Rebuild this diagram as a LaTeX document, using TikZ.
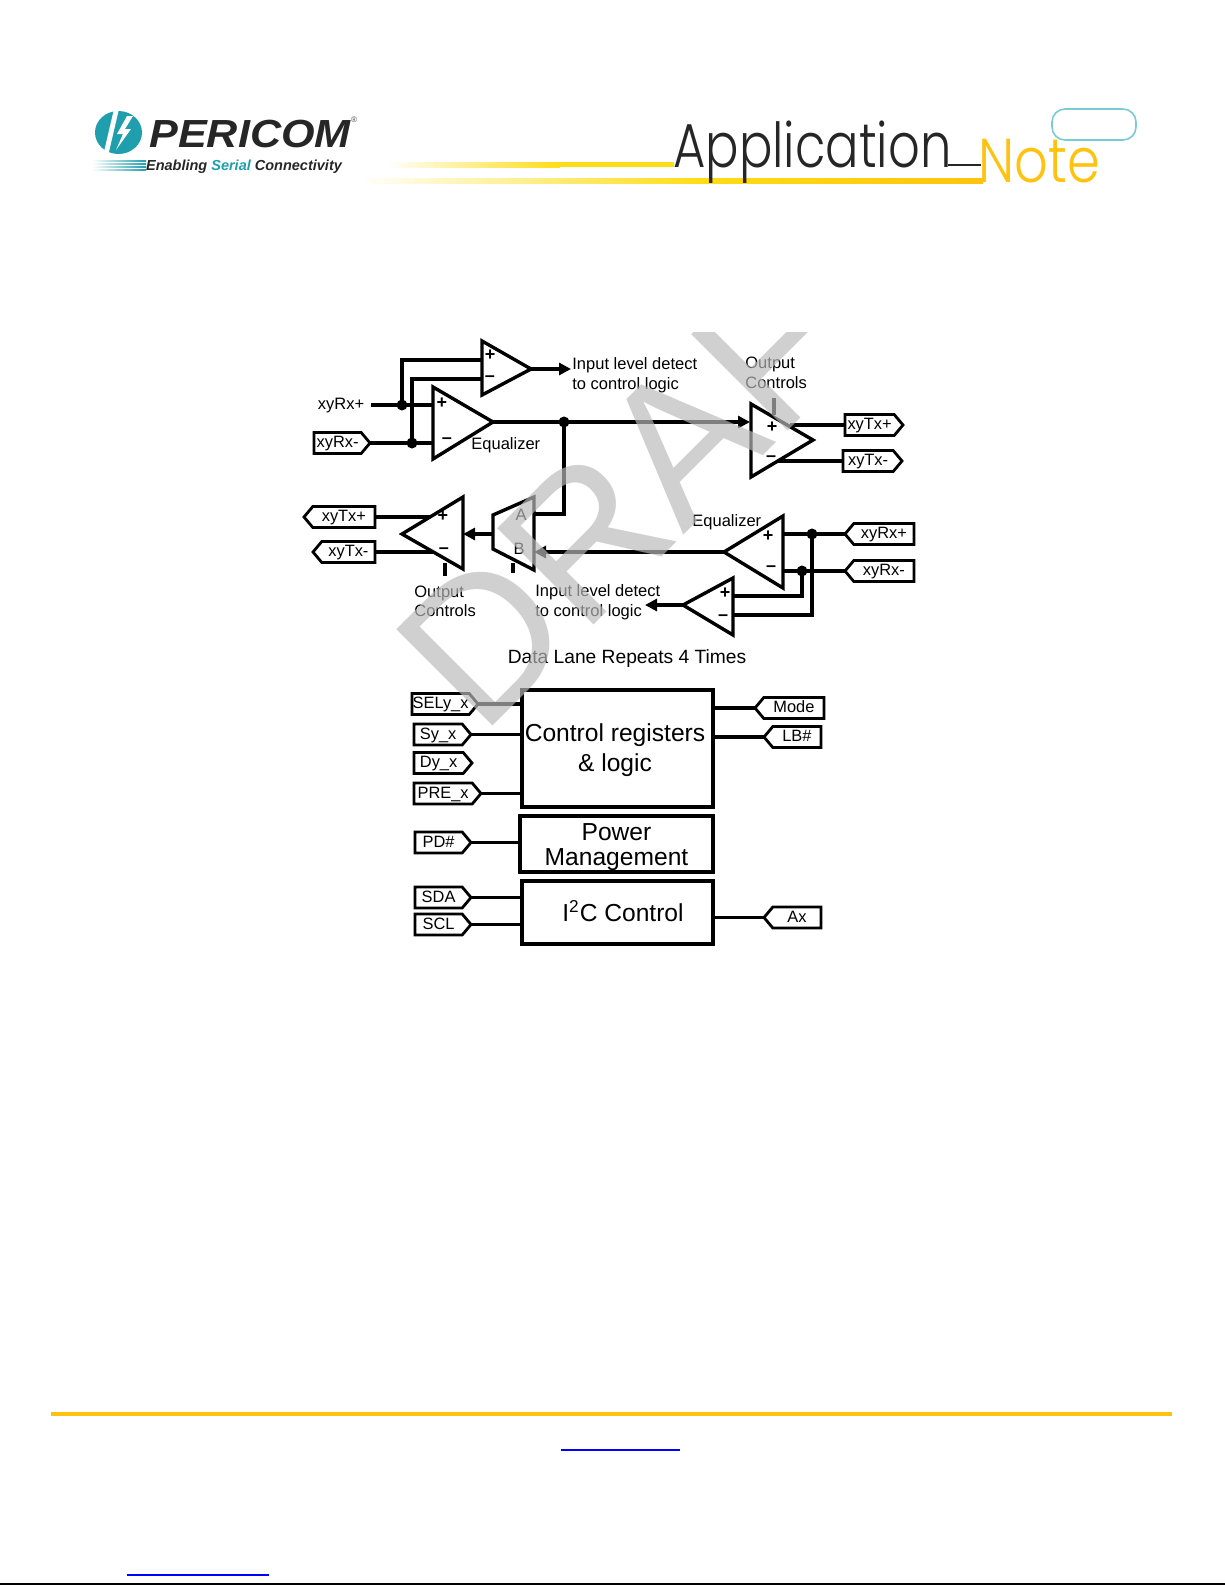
\documentclass[tikz,border=0pt]{standalone}
\usepackage{fontspec}
\setmainfont{Liberation Sans}
\newfontfamily\appfont{Poppins Light}
\usetikzlibrary{arrows.meta,shapes.symbols}
\definecolor{hdrgold}{HTML}{FFC20E}
\definecolor{hdryellow}{HTML}{FFDD15}
\definecolor{logoteal}{HTML}{1F9FAE}
\definecolor{noteteal}{HTML}{7CCAD6}
\definecolor{markgray}{gray}{0.73}
\tikzset{
  wire/.style={line width=1.55pt},
  sigarrow/.style={wire,-{Triangle[length=6pt,width=6pt]}},
  amp/.style={line width=1.7pt,fill=white,line join=miter},
  regbox/.style={draw,line width=2pt,inner sep=0pt,align=center},
  ttext/.style={inner sep=0pt,font=\fontsize{8.25}{9.8}\selectfont,align=left},
  sign/.style={inner sep=0pt,font=\bfseries\fontsize{9}{9}\selectfont},
  tagright/.style={signal,draw,signal to=east,signal from=nowhere,signal pointer angle=100,line width=1.4pt,
    inner sep=0pt,outer sep=0pt,minimum height=10.5pt,text height=6pt,text depth=1.2pt,anchor=west,font=\fontsize{8.2}{9}\selectfont},
  tagleft/.style={signal,draw,signal to=west,signal from=nowhere,signal pointer angle=100,line width=1.4pt,
    inner sep=0pt,outer sep=0pt,minimum height=10.5pt,text height=6pt,text depth=1.2pt,anchor=east,font=\fontsize{8.2}{9}\selectfont},
}
\begin{document}
\begin{tikzpicture}[x=0.5pt,y=-0.5pt]
    \useasboundingbox (0,0) rectangle (1225,1585);
    % page header
    \fill [logoteal] (118.5,132.5) ellipse (23.5 and 21.5);
    \fill [white] (114,109) -- (119,109) -- (108,156) -- (103,156) -- cycle;
    \fill [white] (127,116) -- (117,134) -- (123,134) -- (116,150) -- (131,129) -- (125,129) -- (133,116) -- cycle;
    \node (logoname) at (250,134.5) [inner sep=0pt,xscale=1.1,transform shape,font=\fontsize{19.6}{20}\bfseries\itshape\selectfont,text=black!85] {PERICOM};
    \node (logomark) at (354,120) [inner sep=0pt,font=\fontsize{4}{4}\selectfont,text=black!70] {®};
    \foreach \y in {160,163,166,169}
      \shade [left color=white,right color=logoteal] (92,\y) rectangle (146,\y+1.6);
    \node (logotag) at (244,167) [inner sep=0pt,font=\fontsize{7.25}{8}\bfseries\itshape\selectfont,text=black!85] {Enabling \textcolor{logoteal}{Serial} Connectivity};
    \shade [left color=white,right color=hdryellow] (386,162) rectangle (560,167);
    \fill [hdryellow] (559.5,162) rectangle (674,167);
    \shade [left color=white,right color=hdryellow] (358,178) rectangle (700,183);
    \shade [left color=hdryellow,right color=hdrgold] (699.5,178) rectangle (983,183);
    \draw [line width=1.1pt,black!85] (948,165) -- (981,165);
    \node (appword) at (673,167) [anchor=base west,inner sep=0pt,xscale=0.8,transform shape,font=\appfont\fontsize{31}{31}\selectfont,text=black!85] {Application};
    \node (noteword) at (978,182) [anchor=base west,inner sep=0pt,xscale=0.85,transform shape,font=\appfont\fontsize{31}{31}\selectfont,text=hdrgold] {Note};
    \draw [noteteal,line width=0.8pt,rounded corners=6.5pt] (1052,109) rectangle (1136,140);
    % upper lane
    \node (rxpa) at (341,406) [ttext] {xyRx+};
    \node (rxma) at (314,443) [tagright,minimum width=28pt] {xyRx-};
    \coordinate (cmpain) at (482,360);
    \coordinate (cmpbin) at (482,379);
    \coordinate (eqap) at (433,405);
    \coordinate (eqam) at (433,443);
    \coordinate (doa) at (402,405);
    \coordinate (dob) at (412,443);
    \draw [wire] (371,405) -- (eqap);
    \draw [wire] (rxma.east) -- (eqam);
    \draw [wire] (doa) |- (cmpain);
    \draw [wire] (dob) |- (cmpbin);
    \fill (doa) circle (5.5) (dob) circle (5.5);
    \draw [amp] (482,341) -- (531,369) coordinate (cmpaout) -- (482,395) -- cycle;
    \draw [amp] (433,387) -- (493,422) coordinate (eqaout) -- (433,459) -- cycle;
    \node at (490,355) [sign] {+};
    \node at (490,379) [sign] {--};
    \node at (442,403) [sign] {+};
    \node at (447,441) [sign] {--};
    \coordinate (inlvla) at (571,369);
    \draw [sigarrow] (cmpaout) -- (inlvla);
    \node (lvltxta) at (572,375) [ttext,anchor=west] {Input level detect\\to control logic};
    \node (eqtxta) at (471,445) [ttext,anchor=west] {Equalizer};
    \coordinate (doc) at (564,422);
    \coordinate (ampain) at (750,422);
    \draw [sigarrow] (eqaout) -- (ampain);
    \fill (doc) circle (5.5);
    \node (ctrltxta) at (745,373) [ttext,anchor=west] {Output\\Controls};
    \draw [wire] (774,398) -- (774,415);
    \node (txpa) at (845,425) [tagright,minimum width=29pt] {xyTx+};
    \node (txma) at (843,461) [tagright,minimum width=29.5pt] {xyTx-};
    \draw [wire] (txpa.west) -- (790,425);
    \draw [wire] (txma.west) -- (770,461);
    \draw [amp] (751,404) -- (813,440) -- (751,477) -- cycle;
    \node at (772,427) [sign] {+};
    \node at (771,459) [sign] {--};
    % lower lane
    \node (txpb) at (375,517) [tagleft,minimum width=35.5pt] {xyTx+};
    \node (txmb) at (375,552) [tagleft,minimum width=31pt] {xyTx-};
    \coordinate (ampbp) at (445,517);
    \coordinate (ampbm) at (445,552);
    \draw [wire] (txpb.east) -- (ampbp);
    \draw [wire] (txmb.east) -- (ampbm);
    \draw [amp] (402,534) -- (463,497) coordinate (ampbtop) -- (463,569) -- cycle;
    \node at (443,516) [sign] {+};
    \node at (444,551) [sign] {--};
    \draw [wire] (445,563) -- (445,576);
    \node (ctrltxtb) at (414,601.5) [ttext,anchor=west] {Output\\Controls};
    \coordinate (muxa) at (534,514);
    \coordinate (muxb) at (534,552);
    \coordinate (muxout) at (493,534);
    \draw [amp] (493,515) -- (534,497) -- (534,570) -- (493,549) -- cycle;
    \node at (521,515) [ttext] {A};
    \node at (519,549) [ttext] {B};
    \draw [sigarrow] (muxout) -- (463,534);
    \draw [wire] (513,563) -- (513,573);
    \draw [wire] (doc) |- (muxa);
    \node (rxpb) at (914,534) [tagleft,minimum width=34.5pt] {xyRx+};
    \node (rxmb) at (914,571) [tagleft,minimum width=34.5pt] {xyRx-};
    \coordinate (eqbout) at (724,552);
    \draw [sigarrow] (eqbout) -- (muxb);
    \coordinate (dod) at (812,534);
    \coordinate (doe) at (802,571);
    \draw [wire] (783,534) -- (rxpb.west);
    \draw [wire] (783,571) -- (rxmb.west);
    \draw [wire] (doe) |- (733,596);
    \draw [wire] (dod) |- (733,615);
    \fill (dod) circle (5.5) (doe) circle (5.5);
    \draw [amp] (783,516) -- (724,552) -- (783,588) -- cycle;
    \node at (768,536) [sign] {+};
    \node at (771,569) [sign] {--};
    \node (eqtxtb) at (692,522) [ttext,anchor=west] {Equalizer};
    \draw [amp] (733,578) -- (683,605) coordinate (cmpbout) -- (733,635) -- cycle;
    \node at (725,593) [sign] {+};
    \node at (723,618) [sign] {--};
    \coordinate (inlvlb) at (645,605);
    \draw [sigarrow] (cmpbout) -- (inlvlb);
    \node (lvltxtb) at (535,602) [ttext,anchor=west] {Input level detect\\to control logic};
    \node (lanetxt) at (627,659) [inner sep=0pt,font=\fontsize{9.6}{10}\selectfont] {Data Lane Repeats 4 Times};
    % control blocks
    \node (ctrlbox) at (617.5,748.5) [regbox,minimum width=95.5pt,minimum height=58.5pt] {};
    \node (ctrltxt) at (615,750) [inner sep=0pt,align=center,font=\fontsize{12.3}{15}\selectfont] {Control registers\\\& logic};
    \node (pwrbox) at (616.5,844) [regbox,minimum width=96.5pt,minimum height=28pt] {};
    \node (pwrtxt) at (616.5,847) [inner sep=0pt,align=center,font=\fontsize{12.3}{12.5}\selectfont] {Power\\Management};
    \node (i2cbox) at (617.5,912.5) [regbox,minimum width=95.5pt,minimum height=31.5pt] {};
    \node (i2ctxt) at (623,911) [inner sep=0pt,font=\fontsize{12.3}{14}\selectfont] {I\textsuperscript{2}C Control};
    \node (tagsel) at (412,704) [tagright,minimum width=33pt] {SELy\_x};
    \node (tagsy) at (414,734.5) [tagright,minimum width=28.5pt] {Sy\_x};
    \node (tagdy) at (414,763) [tagright,minimum width=29pt] {Dy\_x};
    \node (tagpre) at (414,793.5) [tagright,minimum width=33.5pt] {PRE\_x};
    \node (tagpd) at (415,842.5) [tagright,minimum width=28pt] {PD\#};
    \node (tagsda) at (415,897.5) [tagright,minimum width=28pt] {SDA};
    \node (tagscl) at (415,924.5) [tagright,minimum width=28pt] {SCL};
    \node (tagmode) at (824,708) [tagleft,minimum width=34.5pt] {Mode};
    \node (taglb) at (821,737) [tagleft,minimum width=28.5pt] {LB\#};
    \node (tagax) at (821,917.5) [tagleft,minimum width=28.5pt] {Ax};
    \draw [wire] (tagsel.east) -- (tagsel.east -| ctrlbox.west);
    \draw [wire] (tagsy.east) -- (tagsy.east -| ctrlbox.west);
    \draw [wire] (tagpre.east) -- (tagpre.east -| ctrlbox.west);
    \draw [wire] (tagpd.east) -- (tagpd.east -| pwrbox.west);
    \draw [wire] (tagsda.east) -- (tagsda.east -| i2cbox.west);
    \draw [wire] (tagscl.east) -- (tagscl.east -| i2cbox.west);
    \draw [wire] (tagmode.west) -- (tagmode.west -| ctrlbox.east);
    \draw [wire] (taglb.west) -- (taglb.west -| ctrlbox.east);
    \draw [wire] (tagax.west) -- (tagax.west -| i2cbox.east);
    % page footer
    \fill [hdrgold] (51,1412) rectangle (1172,1416);
    \draw [blue,line width=0.8pt] (561,1450) -- (680,1450);
    \draw [blue,line width=0.8pt] (127,1575) -- (269,1575);
    \draw [black,line width=1pt] (0,1584) -- (1225,1584);
    % watermark
    \begin{scope}
      \clip (0,332) rectangle (1225,1000);
      \node (draftmark) at (481,738) [anchor=base west,rotate=45,inner sep=0pt,opacity=0.68,text=markgray,font=\fontsize{99}{99}\selectfont] {DRAF};
    \end{scope}
\end{tikzpicture}
\end{document}
